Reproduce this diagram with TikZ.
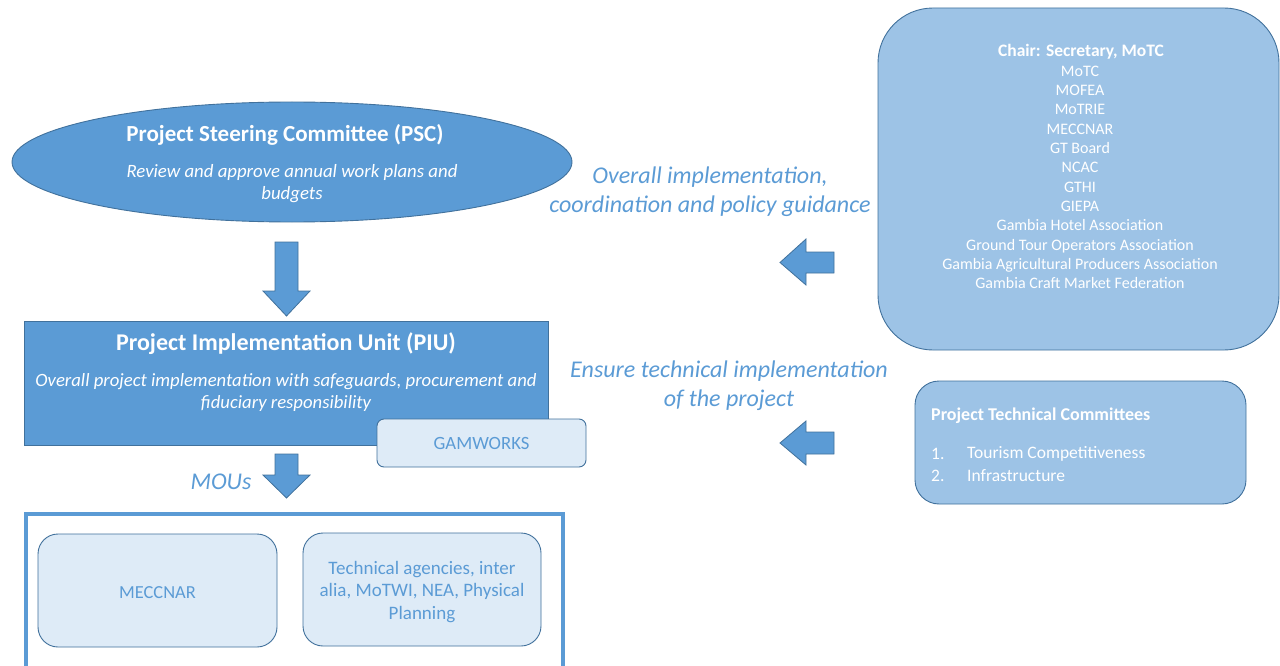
\documentclass[tikz,border=0pt]{standalone}
\usepackage{fontspec}
\setmainfont{Carlito}
\usetikzlibrary{shapes.geometric}
\definecolor{mblue}{HTML}{5B9BD5}
\definecolor{dblue}{HTML}{41719C}
\definecolor{lblue}{HTML}{DEEBF7}
\definecolor{pblue}{HTML}{9DC3E6}
\newcommand{\fs}[2]{\fontsize{#1}{#2}\selectfont}
\tikzset{
  blockarrow/.style={fill=mblue, draw=dblue, line width=0.8pt},
  lightbox/.style={rounded corners=20pt, fill=lblue, draw=dblue, line width=0.9pt, text=mblue, align=center, inner sep=0pt},
  palebox/.style={fill=pblue, draw=dblue, line width=0.9pt},
  bluelabel/.style={text=mblue, align=center, inner sep=0pt, font=\itshape\fs{24}{29}},
  whitetext/.style={text=white, inner sep=0pt},
}
\begin{document}
\begin{tikzpicture}[x=1pt,y=-1pt]
\useasboundingbox (0,0) rectangle (1280,666);
\clip (0,0) rectangle (1280,666);

% PSC ellipse
\node (psc) [ellipse, minimum width=560pt, minimum height=120pt, fill=mblue, draw=dblue, line width=0.9pt] at (292,162) {};
\node (psct) [whitetext, font=\bfseries\fs{23}{26}] at (285,135) {Project Steering Committee (PSC)};
\node (pscd) [whitetext, align=center, font=\itshape\fs{18.8}{22}] at (292,184) {Review and approve annual work plans and\\budgets};

% arrow 1 down
\draw[blockarrow] (275,242) -- (298,242) -- (298,291) -- (310,291) -- (286.5,316) -- (263,291) -- (275,291) -- cycle;

% PIU rectangle
\node (piu) [rectangle, minimum width=524pt, minimum height=124pt, fill=mblue, draw=dblue, line width=0.8pt, inner sep=0pt] at (286,383) {};
\node (piut) [whitetext, font=\bfseries\fs{24}{27}] at (286,343.5) {Project Implementation Unit (PIU)};
\node (piud) [whitetext, align=center, font=\itshape\fs{18.7}{22}] at (286,392.5) {Overall project implementation with safeguards, procurement and\\fiduciary responsibility};

% GAMWORKS
\node (gam) [lightbox, rounded corners=7pt, minimum width=209pt, minimum height=48pt, font=\fs{18.7}{20}] at (481.5,443) {GAMWORKS};

% arrow 2 down
\draw[blockarrow] (275,454) -- (298,454) -- (298,475) -- (310,475) -- (286.5,498) -- (263,475) -- (275,475) -- cycle;
\node (mou) [bluelabel] at (221,482) {MOUs};

% bottom frame
\node (frame) [rectangle, draw=mblue, line width=4pt, fill=white, minimum width=537pt, minimum height=180pt, inner sep=0pt, anchor=north west] at (23.5,512) {};
\node (mec) [lightbox, minimum width=239pt, minimum height=113pt, font=\fs{18.4}{22.5}] at (157.5,590.5) {};
\node (mect) [text=mblue, inner sep=0pt, font=\fs{18.4}{22.5}] at (157.5,592.5) {MECCNAR};
\node (tech) [lightbox, minimum width=238pt, minimum height=113pt] at (422,589.5) {};
\node (techt) [text=mblue, align=center, inner sep=0pt, font=\fs{19}{22.5}] at (422,592) {Technical agencies, inter\\alia, MoTWI, NEA, Physical\\Planning};

% middle labels
\node (lab1) [bluelabel] at (710,192) {Overall implementation,\\coordination and policy guidance};
\node (lab2) [bluelabel] at (729,386) {Ensure technical implementation\\of the project};

% left arrows
\draw[blockarrow] (834,252) -- (834,273) -- (806,273) -- (806,285) -- (780,262.5) -- (806,239) -- (806,252) -- cycle;
\draw[blockarrow] (834,432) -- (834,454) -- (806,454) -- (806,465) -- (780,443) -- (806,421) -- (806,432) -- cycle;

% big right box
\node (psc2) [palebox, rectangle, rounded corners=55pt, minimum width=401pt, minimum height=342pt, inner sep=0pt] at (1078.5,179) {};
\node (chair) [whitetext, font=\bfseries\fs{17.5}{20}] at (1081,52) {Chair: Secretary, MoTC};
\node (members) [whitetext, align=center, font=\fs{16}{19.33}, anchor=north] at (1080,65.5) {MoTC\\MOFEA\\MoTRIE\\MECCNAR\\GT Board\\NCAC\\GTHI\\GIEPA\\Gambia Hotel Association\\Ground Tour Operators Association\\Gambia Agricultural Producers Association\\Gambia Craft Market Federation};

% technical committees box
\node (ptc) [palebox, rectangle, rounded corners=24pt, minimum width=331pt, minimum height=123pt, inner sep=0pt] at (1080.5,442.5) {};
\node (ptct) [whitetext, anchor=west, font=\bfseries\fs{18}{20}] at (931,416) {Project Technical Committees};
\node (n1) [whitetext, anchor=west, font=\fs{17.5}{20}] at (931,453.5) {1.};
\node (i1) [whitetext, anchor=west, font=\fs{17.5}{20}] at (967,453.5) {Tourism Competitiveness};
\node (n2) [whitetext, anchor=west, font=\fs{17.5}{20}] at (931,475.5) {2.};
\node (i2) [whitetext, anchor=west, font=\fs{17.5}{20}] at (967,475.5) {Infrastructure};
\end{tikzpicture}
\end{document}
